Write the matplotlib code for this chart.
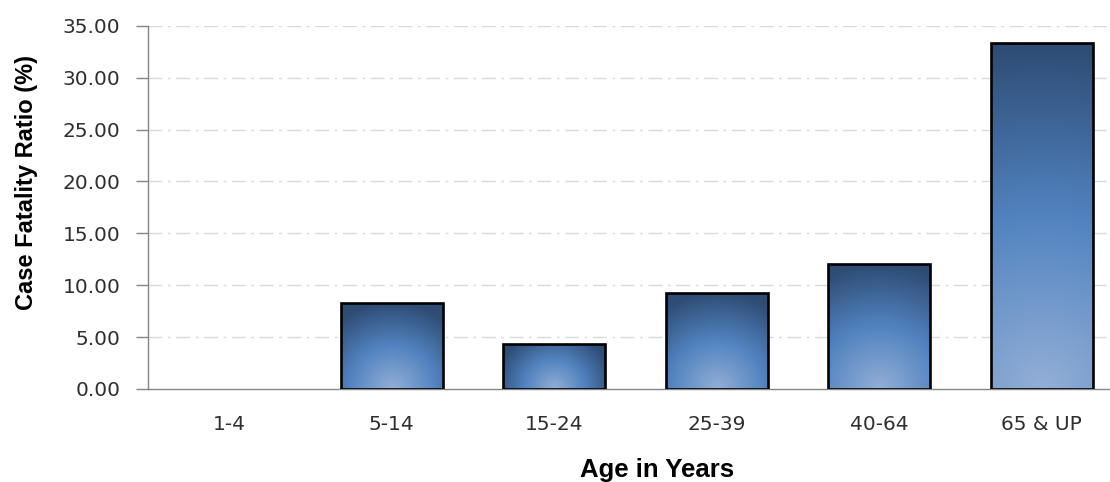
import numpy as np
import matplotlib
matplotlib.use("Agg")
import matplotlib.pyplot as plt
from matplotlib.colors import LinearSegmentedColormap
from matplotlib.patches import Rectangle

categories = ["1-4", "5-14", "15-24", "25-39", "40-64", "65 & UP"]
values = [0.0, 8.33, 4.33, 9.26, 12.0, 33.33]
yticks = [0, 5, 10, 15, 20, 25, 30, 35]

label_family = ["Liberation Sans", "DejaVu Sans"]

W, H = 1110, 482
fig = plt.figure(figsize=(W / 100, H / 100), dpi=100)
ax_left, ax_right, ax_bottom, ax_top = 148, 1123, 389, 25.7
ax = fig.add_axes([ax_left / W, (H - ax_bottom) / H, (ax_right - ax_left) / W, (ax_bottom - ax_top) / H])

ax.set_xlim(-0.5, len(categories) - 0.5)
ax.set_ylim(0, 35)

cmap = LinearSegmentedColormap.from_list("barfill", [(0.0, "#93afd6"), (0.5, "#5283c0"), (1.0, "#2e4c74")])

px_x = (ax_right - ax_left) / len(categories)
px_y = (ax_bottom - ax_top) / 35.0
bw = 0.63

for i, v in enumerate(values):
    if v <= 0:
        continue
    x0, x1 = i - bw / 2, i + bw / 2
    nx, ny = 120, 240
    xs = np.linspace(x0, x1, nx)
    ys = np.linspace(0, v, ny)
    XX, YY = np.meshgrid(xs, ys)
    dx = (XX - i) * px_x
    dy = YY * px_y
    hpx = v * px_y
    r = np.sqrt(dx ** 2 + dy ** 2) / max(hpx, 60)
    t = np.clip(r, 0, 1)
    im = ax.imshow(t, cmap=cmap, vmin=0, vmax=1, origin="lower", extent=[x0, x1, 0, v],
                   aspect="auto", zorder=2, interpolation="bilinear")
    rect = Rectangle((x0, 0), bw, v, facecolor="none", edgecolor="black", linewidth=1.9, zorder=3)
    ax.add_patch(rect)
    im.set_clip_path(rect)

ax.set_xlim(-0.5, len(categories) - 0.5)
ax.set_ylim(0, 35)

ax.set_yticks(yticks)
ax.set_yticklabels([f"{t:.2f}" for t in yticks])
ax.set_xticks(range(len(categories)))
ax.set_xticklabels(categories)

for y in yticks[1:]:
    ax.axhline(y, color="#d9d9d9", linewidth=1.0, linestyle=(0, (10, 4, 2, 4)), zorder=1)

for s in ["top", "right"]:
    ax.spines[s].set_visible(False)
for s in ["left", "bottom"]:
    ax.spines[s].set_color("#868686")
    ax.spines[s].set_linewidth(1.0)

for lab in ax.get_xticklabels() + ax.get_yticklabels():
    lab.set_family("DejaVu Sans")

ax.tick_params(axis="y", direction="out", length=9, width=1, color="#868686",
               labelsize=14.5, labelcolor="#2f2f2f", pad=11)
ax.tick_params(axis="x", length=0, labelsize=14.5, labelcolor="#2f2f2f", pad=19)

fig.text(27 / W, 1 - 183 / H, "Case Fatality Ratio (%)", rotation=90, ha="center", va="center",
         fontsize=17, fontweight="bold", color="black", family=label_family)
fig.text(657 / W, 1 - 477 / H, "Age in Years", ha="center", va="baseline",
         fontsize=18.5, fontweight="bold", color="black", family=label_family)

fig.savefig("out.png", dpi=100)
